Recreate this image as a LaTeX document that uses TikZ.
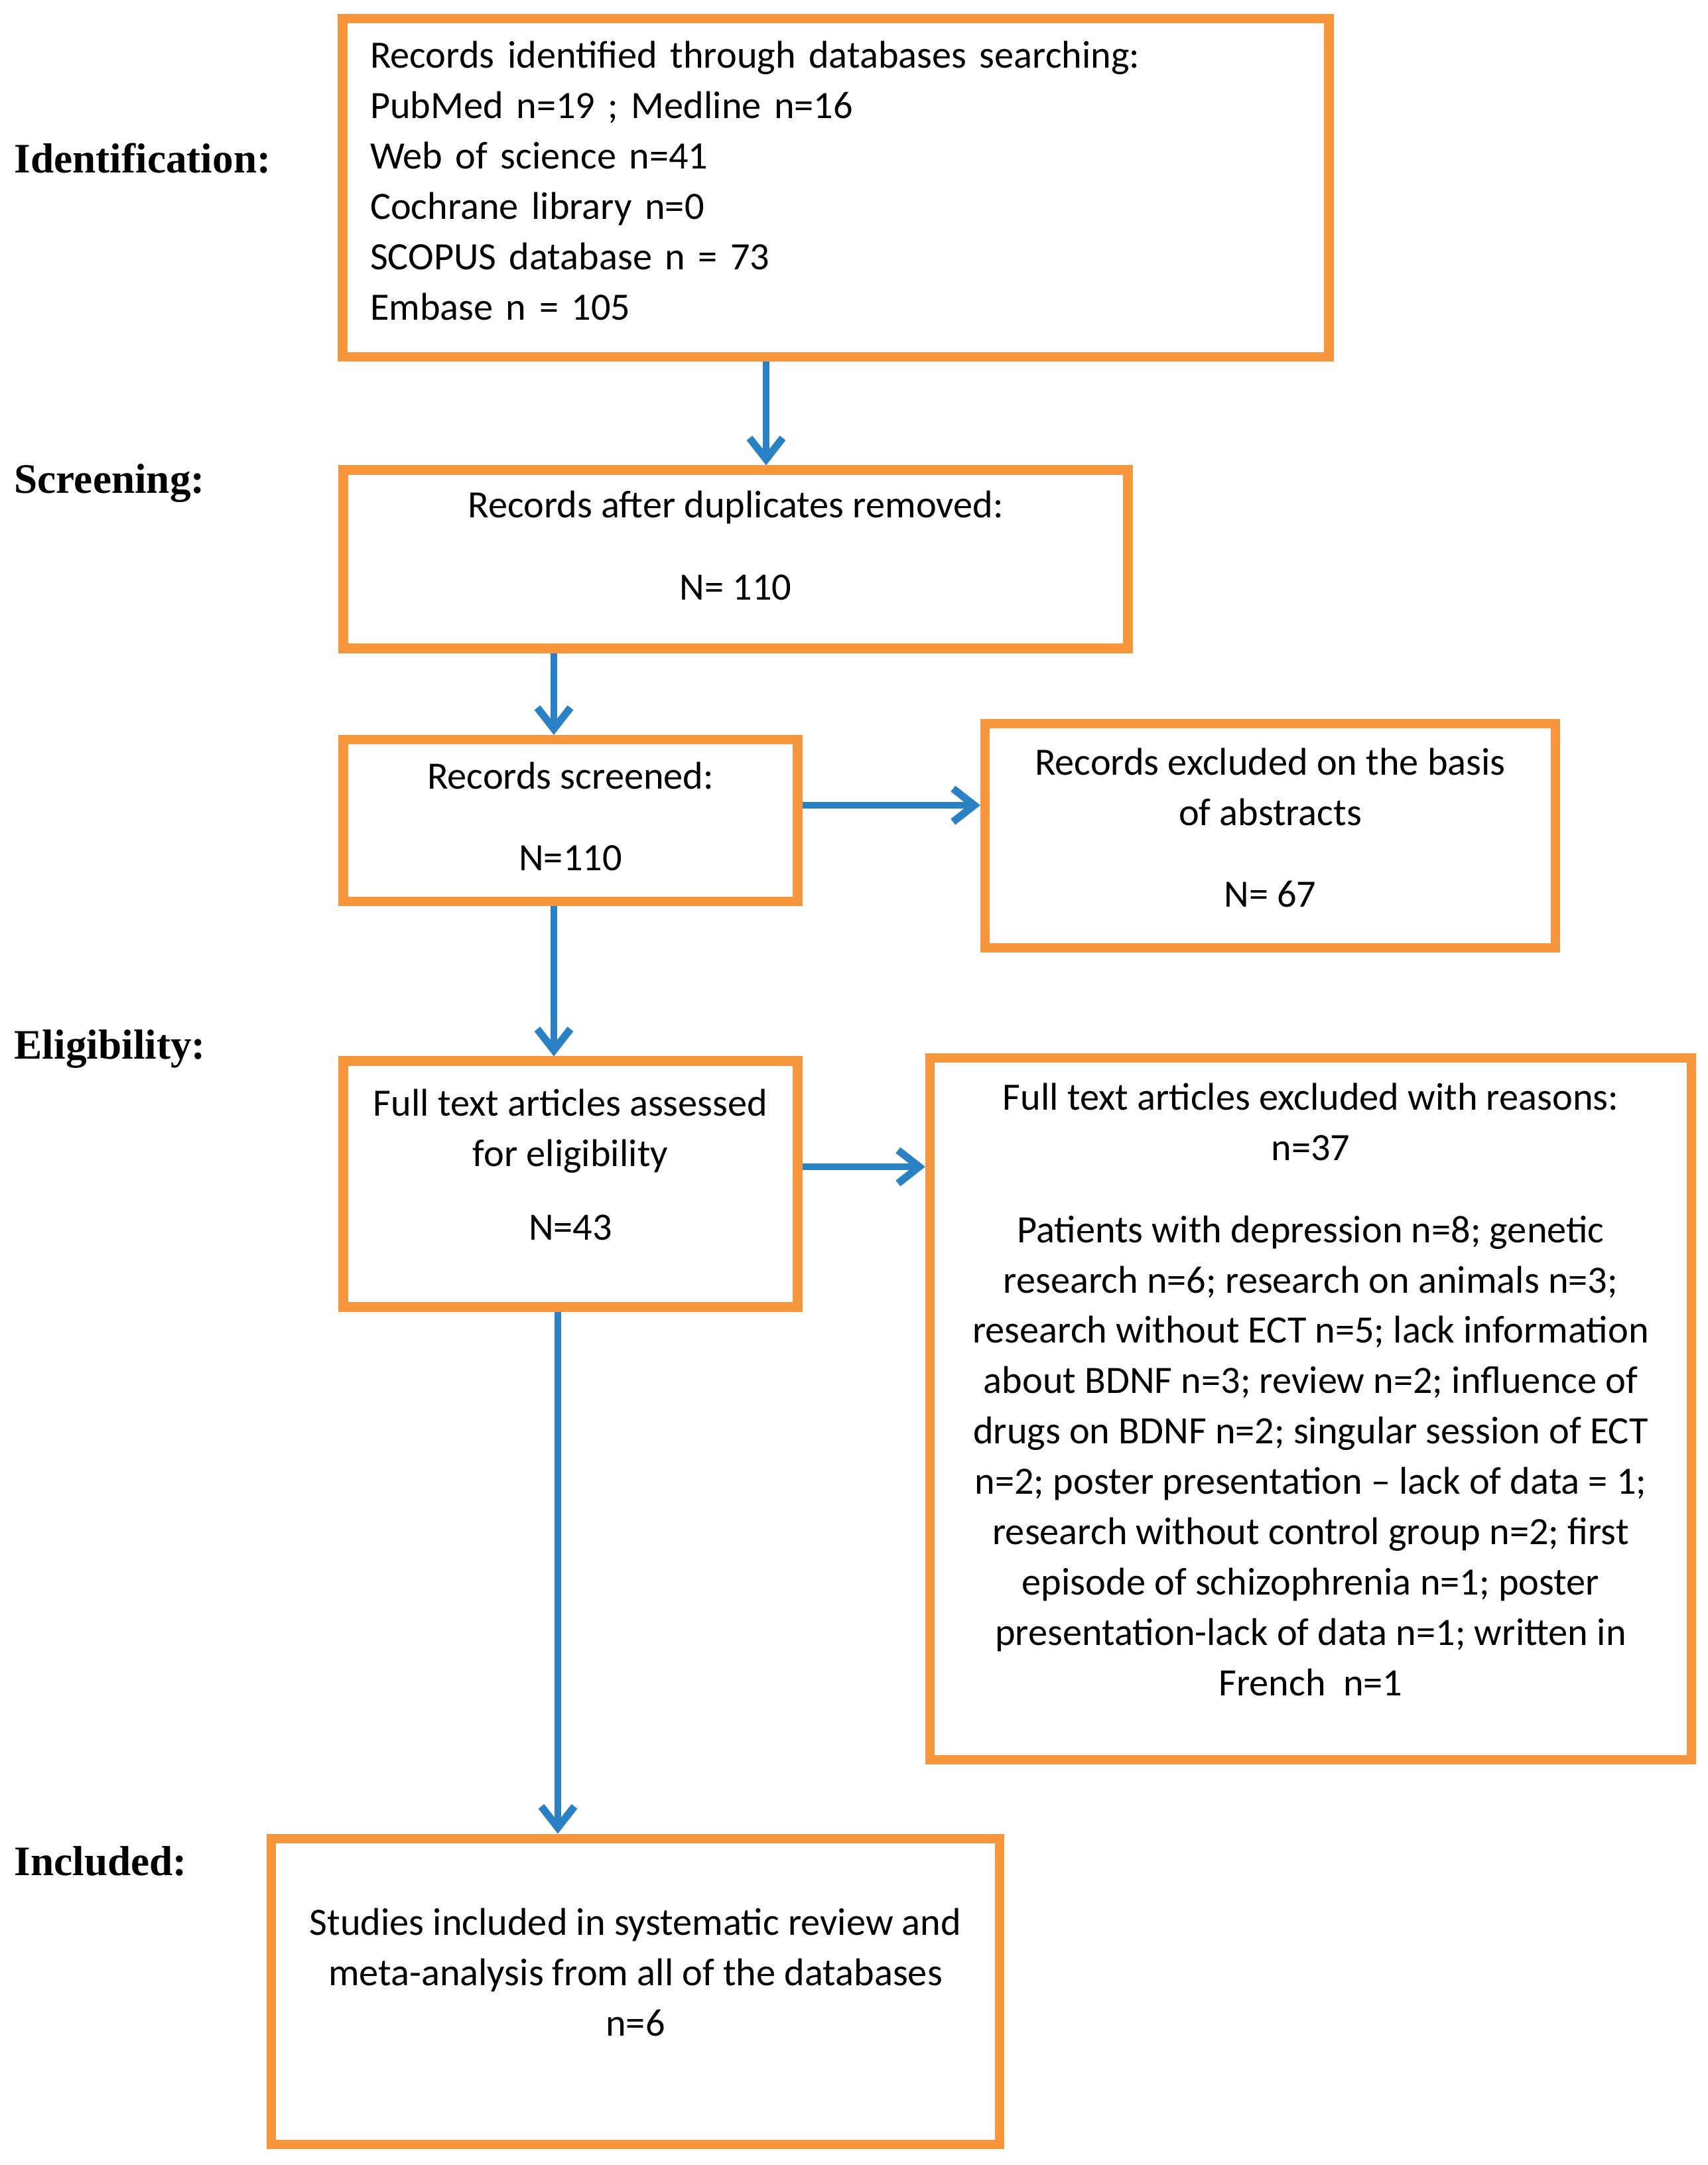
\documentclass[tikz,border=0pt]{standalone}
\usepackage{fontspec}
\setmainfont{Carlito}
\newfontfamily\stagefont{Liberation Serif}
\usetikzlibrary{arrows.meta}

\definecolor{boxorange}{RGB}{247,150,61}
\definecolor{flowblue}{RGB}{42,130,196}

% une ligne vide sous le texte pour le remonter un peu
\newcommand{\liftup}[1][-5pt]{\\[#1]\mbox{}}

\tikzset{
    box/.style={draw=boxorange, line width=4pt, inner sep=0pt, align=center,
        font=\fontsize{16.6}{21.6}\selectfont},
    flow/.style={draw=flowblue, line width=3pt,
        -{Straight Barb[length=0.32cm, width=0.5cm, line width=3.2pt]}},
    stage/.style={anchor=west, inner sep=0pt,
        font=\stagefont\bfseries\fontsize{18}{20}\selectfont}
}

\begin{document}
\begin{tikzpicture}
        \useasboundingbox (0,0) rectangle (25.75,-32.64);

        %% etapes
        \node [stage] (lid) at (0.21,-2.39) {Identification:};
        \node [stage] (lscr) at (0.21,-7.29) {Screening:};
        \node [stage] (lelig) at (0.21,-15.82) {Eligibility:};
        \node [stage] (lincl) at (0.21,-28.06) {Included:};

        %% identification
        \node [box, minimum width=14.87cm, minimum height=5.10cm, text width=14.04cm, align=left] (ident) at (12.60,-2.83) {Records identified through databases searching:\\ PubMed n=19 ; Medline n=16\\ Web of science n=41\\ Cochrane library n=0\\ SCOPUS database n = 73\\ Embase n = 105\liftup[-15.6pt]};

        %% screening
        \node [box, minimum width=11.83cm, minimum height=2.69cm] (dup) at (11.09,-8.43) {Records after duplicates removed:\\[13.5pt] N= 110\liftup[-9.8pt]};
        \node [box, minimum width=6.85cm, minimum height=2.44cm] (scr) at (8.60,-12.37) {Records screened:\\[13.5pt] N=110\liftup[-18pt]};
        \node [box, minimum width=8.60cm, minimum height=3.38cm] (exab) at (19.15,-12.60) {Records excluded on the basis\\ of abstracts\\[13.5pt] N= 67\liftup[-14.5pt]};

        %% eligibility
        \node [box, minimum width=6.85cm, minimum height=3.71cm] (full) at (8.60,-17.85) {Full text articles assessed\\ for eligibility\\[10pt] N=43\liftup};
        \node [box, minimum width=11.48cm, minimum height=10.58cm] (exfull) at (19.76,-21.24) {Full text articles excluded with reasons:\\ n=37\\[13.5pt] Patients with depression n=8; genetic\\ research n=6; research on animals n=3;\\ research without ECT n=5; lack information\\ about BDNF n=3; review n=2; influence of\\ drugs on BDNF n=2; singular session of ECT\\ n=2; poster presentation -- lack of data = 1;\\ research without control group n=2; first\\ episode of schizophrenia n=1; poster\\ presentation-lack of data n=1; written in\\ French\ \ n=1\liftup};

        %% included
        \node [box, minimum width=10.98cm, minimum height=4.61cm] (incl) at (9.58,-30.02) {Studies included in systematic review and\\ meta-analysis from all of the databases\\ n=6\liftup};

        %% fleches
        \draw [flow] ([xshift=-1.05cm]ident.south) -- ([xshift=-1.05cm]ident.south |- dup.north);
        \draw [flow] ([xshift=-2.74cm]dup.south) -- ([xshift=-2.74cm]dup.south |- scr.north);
        \draw [flow] ([yshift=0.23cm]scr.east) -- ([yshift=0.23cm]scr.east -| exab.west);
        \draw [flow] ([xshift=-0.25cm]scr.south) -- ([xshift=-0.25cm]scr.south |- full.north);
        \draw [flow] ([yshift=0.26cm]full.east) -- ([yshift=0.26cm]full.east -| exfull.west);
        \draw [flow] ([xshift=-0.19cm]full.south) -- ([xshift=-0.19cm]full.south |- incl.north);

\end{tikzpicture}
\end{document}
